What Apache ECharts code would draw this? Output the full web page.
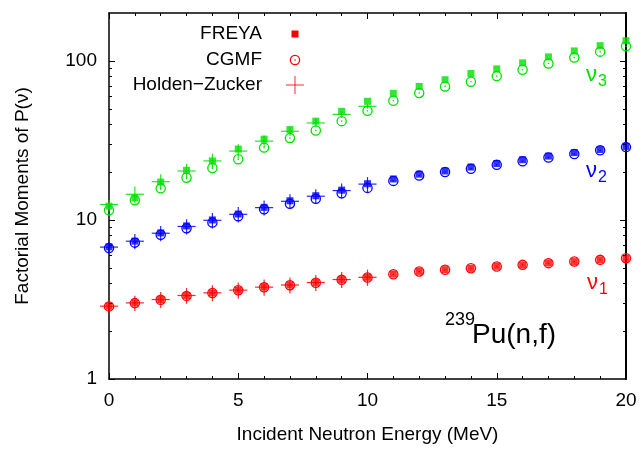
<!DOCTYPE html>
<html><head><meta charset="utf-8">
<script src="https://cdn.jsdelivr.net/npm/echarts@6/dist/echarts.min.js"></script>
<style>html,body{margin:0;padding:0;background:#fff}#c{width:641px;height:449px}</style>
</head><body><div id="c"></div>
<script>
// ---- data ----
const energies = [0,1,2,3,4,5,6,7,8,9,10,11,12,13,14,15,16,17,18,19,20];
const freyaNu1 = [2.87,3.01,3.16,3.35,3.48,3.62,3.78,3.90,4.04,4.22,4.36,4.57,4.75,4.87,4.96,5.11,5.21,5.36,5.47,5.62,5.73];
const cgmfNu1  = [2.86,3.00,3.15,3.33,3.47,3.61,3.77,3.89,4.03,4.21,4.35,4.56,4.74,4.86,4.97,5.10,5.22,5.35,5.48,5.61,5.75];
const freyaNu2 = [6.78,7.36,8.29,9.17,10.0,10.9,12.0,13.2,14.2,15.4,16.9,18.1,19.4,20.3,21.5,22.6,23.9,25.2,26.5,27.7,29.0];
const cgmfNu2  = [6.65,7.20,8.07,8.87,9.62,10.56,11.66,12.65,13.6,14.7,15.9,17.6,19.0,20.0,21.0,22.2,23.4,24.7,26.0,27.4,28.7];
const freyaNu3 = [12.2,13.8,17.3,20.5,23.5,27.9,32.2,37.0,41.8,48.2,55.7,62.5,69.1,76.1,83.3,89.1,97.2,105.9,115.5,124.7,133.9];
const cgmfNu3  = [11.5,13.3,15.8,18.4,21.2,24.1,28.5,32.7,36.5,41.8,48.5,56.2,62.8,69.1,73.9,80.2,87.9,96.2,104.9,114.3,123.6];
const hzEnergies = [0,1,2,3,4,5,6,7,8,9,10];
const hzEnergyErr = 0.35;
const hzNu1    = [2.87,3.01,3.16,3.35,3.48,3.62,3.78,3.90,4.04,4.22,4.36];
const hzNu1Err = [0.30,0.33,0.36,0.38,0.40,0.42,0.44,0.45,0.47,0.49,0.51];
const hzNu2    = [6.75,7.35,8.25,9.10,9.95,10.85,11.95,13.1,14.1,15.3,16.8];
const hzNu2Err = [0.55,0.80,0.90,1.00,1.10,1.20,1.30,1.40,1.50,1.65,1.80];
const hzNu3    = [12.5,14.5,17.4,20.3,23.5,27.1,31.3,36.1,40.7,46.1,51.8];
const hzNu3Err = [0.9,1.7,2.0,2.3,2.6,2.8,2.6,2.4,2.6,2.3,1.8];
const yMajorTicks = [10, 100];
const yMinorTicks = [2,3,4,5,6,7,8,9,20,30,40,50,60,70,80,90];
const xMin = 0, xMax = 20, yMin = 1, yMax = 200;

// ---- styles ----
const FONT = "'Liberation Sans', Arial, sans-serif";
const RED = '#ff0000', BLUE = '#0000ff', GREEN = '#00e000';

const chart = echarts.init(document.getElementById('c'), null, {renderer: 'canvas'});

function pairs(xs, ys) { return xs.map((x, i) => [x, ys[i]]); }
function triples(xs, ys, es) { return xs.map((x, i) => [x, ys[i], es[i]]); }
const crisp = v => Math.round(v) + 0.5;

function freyaSeries(name, ys, color) {
  return { name, type: 'scatter', data: pairs(energies, ys), symbol: 'rect', symbolSize: 7,
    itemStyle: { color }, z: 3, silent: true, animation: false };
}
function cgmfSeries(name, ys, color) {
  return { name, type: 'custom', data: pairs(energies, ys), z: 4, silent: true, animation: false, clip: false,
    renderItem(params, api) {
      const p = api.coord([api.value(0), api.value(1)]);
      return { type: 'group', children: [
        { type: 'circle', shape: { cx: p[0], cy: p[1], r: 4.6 }, style: { fill: 'none', stroke: color, lineWidth: 1.3 } },
        { type: 'circle', shape: { cx: p[0], cy: p[1], r: 0.8 }, style: { fill: color } }
      ]};
    } };
}
function hzSeries(name, ys, es, color) {
  return { name, type: 'custom', data: triples(hzEnergies, ys, es), z: 2, clip: false, silent: true, animation: false,
    renderItem(params, api) {
      const x = api.value(0), y = api.value(1), e = api.value(2);
      const l = api.coord([x - hzEnergyErr, y]), r = api.coord([x + hzEnergyErr, y]);
      const t = api.coord([x, y + e]), b = api.coord([x, y - e]);
      const st = { stroke: color, lineWidth: 1.2, opacity: 0.85 };
      return { type: 'group', children: [
        { type: 'line', shape: { x1: l[0], y1: l[1], x2: r[0], y2: r[1] }, style: st },
        { type: 'line', shape: { x1: t[0], y1: t[1], x2: b[0], y2: b[1] }, style: st }
      ]};
    } };
}
// tick marks on the log axis (left and right frame): [x, value, length]
const tickData = yMinorTicks.map(v => [xMin, v, 3]).concat(yMajorTicks.map(v => [xMin, v, 6]));
const tickSeries = {
  type: 'custom', data: tickData, z: 5, silent: true, animation: false, clip: false,
  renderItem(params, api) {
    const v = api.value(1), len = api.value(2);
    const a = api.coord([xMin, v]), b = api.coord([xMax, v]);
    const st = { stroke: '#000', lineWidth: 1 };
    const ya = crisp(a[1]), yb = crisp(b[1]);
    const children = [{ type: 'line', shape: { x1: Math.round(b[0]), y1: yb, x2: Math.round(b[0]) - len, y2: yb }, style: st }];
    if (len < 5) children.push({ type: 'line', shape: { x1: Math.round(a[0]), y1: ya, x2: Math.round(a[0]) + len, y2: ya }, style: st });
    return { type: 'group', children };
  }
};

const axisCommon = {
  axisLine: { show: true, onZero: false, lineStyle: { color: '#000', width: 1.5 } },
  axisTick: { show: true, inside: true, length: 6, lineStyle: { color: '#000' } },
  splitLine: { show: false }
};
const xBase = Object.assign({}, axisCommon, {
  type: 'value', min: xMin, max: xMax, interval: 5,
  minorTick: { show: true, splitNumber: 5, length: 3, lineStyle: { color: '#000' } }
});

const legendX = 262, legendSymX = 295;
const option = {
  backgroundColor: '#fff',
  animation: false,
  grid: { left: 109, right: 15, top: 13, bottom: 70 },
  xAxis: [
    Object.assign({}, xBase, {
      position: 'bottom',
      name: 'Incident Neutron Energy (MeV)', nameLocation: 'middle', nameGap: 46,
      nameTextStyle: { fontFamily: FONT, fontSize: 19, color: '#000' },
      axisLabel: { fontFamily: FONT, fontSize: 19, color: '#000', margin: 12 }
    }),
    Object.assign({}, xBase, { position: 'top', axisLabel: { show: false } })
  ],
  yAxis: [
    Object.assign({}, axisCommon, {
      type: 'log', logBase: 10, min: yMin, max: yMax, splitNumber: 2,
      position: 'left',
      name: 'Factorial Moments of P(ν)', nameLocation: 'middle', nameGap: 77,
      nameTextStyle: { fontFamily: FONT, fontSize: 19, color: '#000' },
      axisLabel: { fontFamily: FONT, fontSize: 19, color: '#000', margin: 12, showMaxLabel: false,
        formatter: v => ([1, 10, 100].includes(Math.round(v)) && Math.abs(v - Math.round(v)) < 1e-6) ? String(Math.round(v)) : '' }
    }),
    {
      // right frame line
      type: 'value', min: 0, max: 1, position: 'right',
      axisLine: { show: true, onZero: false, lineStyle: { color: '#000', width: 2 } },
      axisTick: { show: false }, axisLabel: { show: false }, splitLine: { show: false }
    }
  ],
  series: [
    hzSeries('Holden−Zucker', hzNu1, hzNu1Err, RED),
    hzSeries('HZ ν2', hzNu2, hzNu2Err, BLUE),
    hzSeries('HZ ν3', hzNu3, hzNu3Err, GREEN),
    freyaSeries('FREYA', freyaNu1, RED),
    freyaSeries('FREYA ν2', freyaNu2, BLUE),
    freyaSeries('FREYA ν3', freyaNu3, GREEN),
    cgmfSeries('CGMF', cgmfNu1, RED),
    cgmfSeries('CGMF ν2', cgmfNu2, BLUE),
    cgmfSeries('CGMF ν3', cgmfNu3, GREEN),
    tickSeries
  ],
  graphic: [
    // legend
    { type: 'text', x: legendX, y: 34, style: { text: 'FREYA', font: `19px ${FONT}`, fill: '#000', align: 'right', verticalAlign: 'middle' } },
    { type: 'text', x: legendX, y: 60, style: { text: 'CGMF', font: `19px ${FONT}`, fill: '#000', align: 'right', verticalAlign: 'middle' } },
    { type: 'text', x: legendX, y: 85, style: { text: 'Holden−Zucker', font: `19px ${FONT}`, fill: '#000', align: 'right', verticalAlign: 'middle' } },
    { type: 'rect', shape: { x: legendSymX - 3.5, y: 34 - 3.5, width: 7, height: 7 }, style: { fill: RED } },
    { type: 'circle', shape: { cx: legendSymX, cy: 60, r: 4.6 }, style: { fill: 'none', stroke: RED, lineWidth: 1.3 } },
    { type: 'circle', shape: { cx: legendSymX, cy: 60, r: 0.8 }, style: { fill: RED } },
    { type: 'line', shape: { x1: legendSymX - 9, y1: 85, x2: legendSymX + 9, y2: 85 }, style: { stroke: RED, lineWidth: 1.2, opacity: 0.7 } },
    { type: 'line', shape: { x1: legendSymX, y1: 76, x2: legendSymX, y2: 94 }, style: { stroke: RED, lineWidth: 1.2, opacity: 0.7 } },
    // nu labels
    { type: 'text', x: 586, y: 75, style: { text: 'ν', font: `22px ${FONT}`, fill: GREEN, verticalAlign: 'middle' } },
    { type: 'text', x: 598, y: 82, style: { text: '3', font: `16px ${FONT}`, fill: GREEN, verticalAlign: 'middle' } },
    { type: 'text', x: 586, y: 171, style: { text: 'ν', font: `22px ${FONT}`, fill: BLUE, verticalAlign: 'middle' } },
    { type: 'text', x: 598, y: 178, style: { text: '2', font: `16px ${FONT}`, fill: BLUE, verticalAlign: 'middle' } },
    { type: 'text', x: 587, y: 283, style: { text: 'ν', font: `22px ${FONT}`, fill: RED, verticalAlign: 'middle' } },
    { type: 'text', x: 599, y: 290, style: { text: '1', font: `16px ${FONT}`, fill: RED, verticalAlign: 'middle' } },
    // reaction label
    { type: 'text', x: 445, y: 320, style: { text: '239', font: `18px ${FONT}`, fill: '#000', verticalAlign: 'middle' } },
    { type: 'text', x: 472, y: 335, style: { text: 'Pu(n,f)', font: `28px ${FONT}`, fill: '#000', verticalAlign: 'middle' } }
  ]
};
chart.setOption(option);
</script>
</body></html>
